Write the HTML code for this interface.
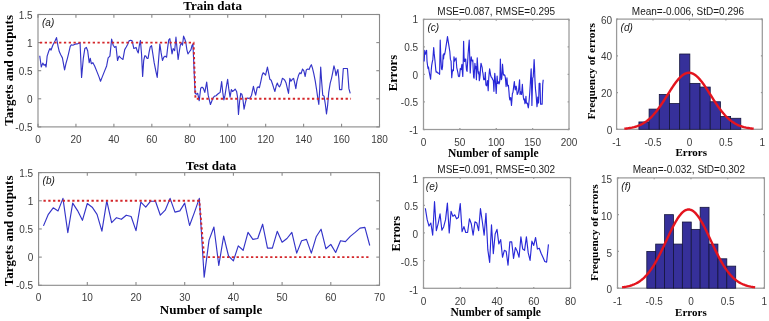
<!DOCTYPE html>
<html><head><meta charset="utf-8"><style>
html,body{margin:0;padding:0;background:#fff;}
svg{display:block;filter:blur(0.35px);}
</style></head><body>
<svg width="769" height="321" viewBox="0 0 769 321">
<rect width="769" height="321" fill="#fff"/>
<g stroke="#8a8a8a" stroke-width="1.1" fill="none"><line x1="38.00" y1="126.90" x2="38.00" y2="123.70"/><line x1="38.00" y1="14.50" x2="38.00" y2="17.70"/><line x1="75.94" y1="126.90" x2="75.94" y2="123.70"/><line x1="75.94" y1="14.50" x2="75.94" y2="17.70"/><line x1="113.89" y1="126.90" x2="113.89" y2="123.70"/><line x1="113.89" y1="14.50" x2="113.89" y2="17.70"/><line x1="151.83" y1="126.90" x2="151.83" y2="123.70"/><line x1="151.83" y1="14.50" x2="151.83" y2="17.70"/><line x1="189.78" y1="126.90" x2="189.78" y2="123.70"/><line x1="189.78" y1="14.50" x2="189.78" y2="17.70"/><line x1="227.72" y1="126.90" x2="227.72" y2="123.70"/><line x1="227.72" y1="14.50" x2="227.72" y2="17.70"/><line x1="265.67" y1="126.90" x2="265.67" y2="123.70"/><line x1="265.67" y1="14.50" x2="265.67" y2="17.70"/><line x1="303.61" y1="126.90" x2="303.61" y2="123.70"/><line x1="303.61" y1="14.50" x2="303.61" y2="17.70"/><line x1="341.56" y1="126.90" x2="341.56" y2="123.70"/><line x1="341.56" y1="14.50" x2="341.56" y2="17.70"/><line x1="379.50" y1="126.90" x2="379.50" y2="123.70"/><line x1="379.50" y1="14.50" x2="379.50" y2="17.70"/><line x1="38.00" y1="126.90" x2="41.20" y2="126.90"/><line x1="379.50" y1="126.90" x2="376.30" y2="126.90"/><line x1="38.00" y1="98.80" x2="41.20" y2="98.80"/><line x1="379.50" y1="98.80" x2="376.30" y2="98.80"/><line x1="38.00" y1="70.70" x2="41.20" y2="70.70"/><line x1="379.50" y1="70.70" x2="376.30" y2="70.70"/><line x1="38.00" y1="42.60" x2="41.20" y2="42.60"/><line x1="379.50" y1="42.60" x2="376.30" y2="42.60"/><line x1="38.00" y1="14.50" x2="41.20" y2="14.50"/><line x1="379.50" y1="14.50" x2="376.30" y2="14.50"/><rect x="38.00" y="14.50" width="341.50" height="112.40" fill="none"/></g><g font-family="&quot;Liberation Sans&quot;, sans-serif" font-size="10" fill="#3c3c3c"><text x="38.00" y="142.90" text-anchor="middle">0</text><text x="75.94" y="142.90" text-anchor="middle">20</text><text x="113.89" y="142.90" text-anchor="middle">40</text><text x="151.83" y="142.90" text-anchor="middle">60</text><text x="189.78" y="142.90" text-anchor="middle">80</text><text x="227.72" y="142.90" text-anchor="middle">100</text><text x="265.67" y="142.90" text-anchor="middle">120</text><text x="303.61" y="142.90" text-anchor="middle">140</text><text x="341.56" y="142.90" text-anchor="middle">160</text><text x="379.50" y="142.90" text-anchor="middle">180</text><text x="32.60" y="131.00" text-anchor="end">-0.5</text><text x="32.60" y="102.90" text-anchor="end">0</text><text x="32.60" y="74.80" text-anchor="end">0.5</text><text x="32.60" y="46.70" text-anchor="end">1</text><text x="32.60" y="18.60" text-anchor="end">1.5</text></g><g stroke="#8a8a8a" stroke-width="1.1" fill="none"><line x1="38.60" y1="285.30" x2="38.60" y2="282.10"/><line x1="38.60" y1="172.60" x2="38.60" y2="175.80"/><line x1="87.30" y1="285.30" x2="87.30" y2="282.10"/><line x1="87.30" y1="172.60" x2="87.30" y2="175.80"/><line x1="136.00" y1="285.30" x2="136.00" y2="282.10"/><line x1="136.00" y1="172.60" x2="136.00" y2="175.80"/><line x1="184.70" y1="285.30" x2="184.70" y2="282.10"/><line x1="184.70" y1="172.60" x2="184.70" y2="175.80"/><line x1="233.40" y1="285.30" x2="233.40" y2="282.10"/><line x1="233.40" y1="172.60" x2="233.40" y2="175.80"/><line x1="282.10" y1="285.30" x2="282.10" y2="282.10"/><line x1="282.10" y1="172.60" x2="282.10" y2="175.80"/><line x1="330.80" y1="285.30" x2="330.80" y2="282.10"/><line x1="330.80" y1="172.60" x2="330.80" y2="175.80"/><line x1="379.50" y1="285.30" x2="379.50" y2="282.10"/><line x1="379.50" y1="172.60" x2="379.50" y2="175.80"/><line x1="38.60" y1="285.30" x2="41.80" y2="285.30"/><line x1="379.50" y1="285.30" x2="376.30" y2="285.30"/><line x1="38.60" y1="257.12" x2="41.80" y2="257.12"/><line x1="379.50" y1="257.12" x2="376.30" y2="257.12"/><line x1="38.60" y1="228.95" x2="41.80" y2="228.95"/><line x1="379.50" y1="228.95" x2="376.30" y2="228.95"/><line x1="38.60" y1="200.78" x2="41.80" y2="200.78"/><line x1="379.50" y1="200.78" x2="376.30" y2="200.78"/><line x1="38.60" y1="172.60" x2="41.80" y2="172.60"/><line x1="379.50" y1="172.60" x2="376.30" y2="172.60"/><rect x="38.60" y="172.60" width="340.90" height="112.70" fill="none"/></g><g font-family="&quot;Liberation Sans&quot;, sans-serif" font-size="10" fill="#3c3c3c"><text x="38.60" y="301.30" text-anchor="middle">0</text><text x="87.30" y="301.30" text-anchor="middle">10</text><text x="136.00" y="301.30" text-anchor="middle">20</text><text x="184.70" y="301.30" text-anchor="middle">30</text><text x="233.40" y="301.30" text-anchor="middle">40</text><text x="282.10" y="301.30" text-anchor="middle">50</text><text x="330.80" y="301.30" text-anchor="middle">60</text><text x="379.50" y="301.30" text-anchor="middle">70</text><text x="33.20" y="289.40" text-anchor="end">-0.5</text><text x="33.20" y="261.23" text-anchor="end">0</text><text x="33.20" y="233.05" text-anchor="end">0.5</text><text x="33.20" y="204.88" text-anchor="end">1</text><text x="33.20" y="176.70" text-anchor="end">1.5</text></g><g stroke="#9a9a9a" stroke-width="1.25" fill="none"><line x1="423.50" y1="129.50" x2="423.50" y2="128.10"/><line x1="423.50" y1="19.30" x2="423.50" y2="20.70"/><line x1="459.88" y1="129.50" x2="459.88" y2="128.10"/><line x1="459.88" y1="19.30" x2="459.88" y2="20.70"/><line x1="496.25" y1="129.50" x2="496.25" y2="128.10"/><line x1="496.25" y1="19.30" x2="496.25" y2="20.70"/><line x1="532.62" y1="129.50" x2="532.62" y2="128.10"/><line x1="532.62" y1="19.30" x2="532.62" y2="20.70"/><line x1="569.00" y1="129.50" x2="569.00" y2="128.10"/><line x1="569.00" y1="19.30" x2="569.00" y2="20.70"/><line x1="423.50" y1="129.50" x2="424.90" y2="129.50"/><line x1="569.00" y1="129.50" x2="567.60" y2="129.50"/><line x1="423.50" y1="101.95" x2="424.90" y2="101.95"/><line x1="569.00" y1="101.95" x2="567.60" y2="101.95"/><line x1="423.50" y1="74.40" x2="424.90" y2="74.40"/><line x1="569.00" y1="74.40" x2="567.60" y2="74.40"/><line x1="423.50" y1="46.85" x2="424.90" y2="46.85"/><line x1="569.00" y1="46.85" x2="567.60" y2="46.85"/><line x1="423.50" y1="19.30" x2="424.90" y2="19.30"/><line x1="569.00" y1="19.30" x2="567.60" y2="19.30"/><rect x="423.50" y="19.30" width="145.50" height="110.20" fill="none"/></g><g font-family="&quot;Liberation Sans&quot;, sans-serif" font-size="10" fill="#3c3c3c"><text x="423.50" y="145.50" text-anchor="middle">0</text><text x="459.88" y="145.50" text-anchor="middle">50</text><text x="496.25" y="145.50" text-anchor="middle">100</text><text x="532.62" y="145.50" text-anchor="middle">150</text><text x="569.00" y="145.50" text-anchor="middle">200</text><text x="418.10" y="133.60" text-anchor="end">-1</text><text x="418.10" y="106.05" text-anchor="end">-0.5</text><text x="418.10" y="78.50" text-anchor="end">0</text><text x="418.10" y="50.95" text-anchor="end">0.5</text><text x="418.10" y="23.40" text-anchor="end">1</text></g><g stroke="#9a9a9a" stroke-width="1.25" fill="none"><line x1="616.60" y1="129.30" x2="616.60" y2="127.90"/><line x1="616.60" y1="19.10" x2="616.60" y2="20.50"/><line x1="653.02" y1="129.30" x2="653.02" y2="127.90"/><line x1="653.02" y1="19.10" x2="653.02" y2="20.50"/><line x1="689.45" y1="129.30" x2="689.45" y2="127.90"/><line x1="689.45" y1="19.10" x2="689.45" y2="20.50"/><line x1="725.88" y1="129.30" x2="725.88" y2="127.90"/><line x1="725.88" y1="19.10" x2="725.88" y2="20.50"/><line x1="762.30" y1="129.30" x2="762.30" y2="127.90"/><line x1="762.30" y1="19.10" x2="762.30" y2="20.50"/><line x1="616.60" y1="129.30" x2="618.00" y2="129.30"/><line x1="762.30" y1="129.30" x2="760.90" y2="129.30"/><line x1="616.60" y1="92.57" x2="618.00" y2="92.57"/><line x1="762.30" y1="92.57" x2="760.90" y2="92.57"/><line x1="616.60" y1="55.83" x2="618.00" y2="55.83"/><line x1="762.30" y1="55.83" x2="760.90" y2="55.83"/><line x1="616.60" y1="19.10" x2="618.00" y2="19.10"/><line x1="762.30" y1="19.10" x2="760.90" y2="19.10"/><rect x="616.60" y="19.10" width="145.70" height="110.20" fill="none"/></g><g font-family="&quot;Liberation Sans&quot;, sans-serif" font-size="10" fill="#3c3c3c"><text x="616.60" y="146.10" text-anchor="middle">-1</text><text x="653.02" y="146.10" text-anchor="middle">-0.5</text><text x="689.45" y="146.10" text-anchor="middle">0</text><text x="725.88" y="146.10" text-anchor="middle">0.5</text><text x="762.30" y="146.10" text-anchor="middle">1</text><text x="612.20" y="133.70" text-anchor="end">0</text><text x="612.20" y="96.97" text-anchor="end">20</text><text x="612.20" y="60.23" text-anchor="end">40</text><text x="612.20" y="23.50" text-anchor="end">60</text></g><g stroke="#9a9a9a" stroke-width="1.25" fill="none"><line x1="423.50" y1="288.30" x2="423.50" y2="286.90"/><line x1="423.50" y1="177.60" x2="423.50" y2="179.00"/><line x1="460.25" y1="288.30" x2="460.25" y2="286.90"/><line x1="460.25" y1="177.60" x2="460.25" y2="179.00"/><line x1="497.00" y1="288.30" x2="497.00" y2="286.90"/><line x1="497.00" y1="177.60" x2="497.00" y2="179.00"/><line x1="533.75" y1="288.30" x2="533.75" y2="286.90"/><line x1="533.75" y1="177.60" x2="533.75" y2="179.00"/><line x1="570.50" y1="288.30" x2="570.50" y2="286.90"/><line x1="570.50" y1="177.60" x2="570.50" y2="179.00"/><line x1="423.50" y1="288.30" x2="424.90" y2="288.30"/><line x1="570.50" y1="288.30" x2="569.10" y2="288.30"/><line x1="423.50" y1="260.62" x2="424.90" y2="260.62"/><line x1="570.50" y1="260.62" x2="569.10" y2="260.62"/><line x1="423.50" y1="232.95" x2="424.90" y2="232.95"/><line x1="570.50" y1="232.95" x2="569.10" y2="232.95"/><line x1="423.50" y1="205.28" x2="424.90" y2="205.28"/><line x1="570.50" y1="205.28" x2="569.10" y2="205.28"/><line x1="423.50" y1="177.60" x2="424.90" y2="177.60"/><line x1="570.50" y1="177.60" x2="569.10" y2="177.60"/><rect x="423.50" y="177.60" width="147.00" height="110.70" fill="none"/></g><g font-family="&quot;Liberation Sans&quot;, sans-serif" font-size="10" fill="#3c3c3c"><text x="423.50" y="305.10" text-anchor="middle">0</text><text x="460.25" y="305.10" text-anchor="middle">20</text><text x="497.00" y="305.10" text-anchor="middle">40</text><text x="533.75" y="305.10" text-anchor="middle">60</text><text x="570.50" y="305.10" text-anchor="middle">80</text><text x="418.10" y="293.50" text-anchor="end">-1</text><text x="418.10" y="265.83" text-anchor="end">-0.5</text><text x="418.10" y="238.15" text-anchor="end">0</text><text x="418.10" y="210.47" text-anchor="end">0.5</text><text x="418.10" y="182.80" text-anchor="end">1</text></g><g stroke="#9a9a9a" stroke-width="1.25" fill="none"><line x1="617.50" y1="288.20" x2="617.50" y2="286.80"/><line x1="617.50" y1="177.90" x2="617.50" y2="179.30"/><line x1="654.23" y1="288.20" x2="654.23" y2="286.80"/><line x1="654.23" y1="177.90" x2="654.23" y2="179.30"/><line x1="690.95" y1="288.20" x2="690.95" y2="286.80"/><line x1="690.95" y1="177.90" x2="690.95" y2="179.30"/><line x1="727.67" y1="288.20" x2="727.67" y2="286.80"/><line x1="727.67" y1="177.90" x2="727.67" y2="179.30"/><line x1="764.40" y1="288.20" x2="764.40" y2="286.80"/><line x1="764.40" y1="177.90" x2="764.40" y2="179.30"/><line x1="617.50" y1="288.20" x2="618.90" y2="288.20"/><line x1="764.40" y1="288.20" x2="763.00" y2="288.20"/><line x1="617.50" y1="251.43" x2="618.90" y2="251.43"/><line x1="764.40" y1="251.43" x2="763.00" y2="251.43"/><line x1="617.50" y1="214.67" x2="618.90" y2="214.67"/><line x1="764.40" y1="214.67" x2="763.00" y2="214.67"/><line x1="617.50" y1="177.90" x2="618.90" y2="177.90"/><line x1="764.40" y1="177.90" x2="763.00" y2="177.90"/><rect x="617.50" y="177.90" width="146.90" height="110.30" fill="none"/></g><g font-family="&quot;Liberation Sans&quot;, sans-serif" font-size="10" fill="#3c3c3c"><text x="617.50" y="305.00" text-anchor="middle">-1</text><text x="654.23" y="305.00" text-anchor="middle">-0.5</text><text x="690.95" y="305.00" text-anchor="middle">0</text><text x="727.67" y="305.00" text-anchor="middle">0.5</text><text x="764.40" y="305.00" text-anchor="middle">1</text><text x="612.10" y="293.30" text-anchor="end">0</text><text x="612.10" y="256.53" text-anchor="end">5</text><text x="612.10" y="219.77" text-anchor="end">10</text><text x="612.10" y="183.00" text-anchor="end">15</text></g><polyline points="39.74,55.71 41.27,67.04 42.79,63.12 44.10,65.29 45.19,64.42 46.06,67.04 47.15,56.14 48.89,50.70 49.98,48.52 51.07,50.04 52.81,45.25 54.99,40.89 56.52,37.63 58.04,46.34 59.35,51.79 60.88,55.05 62.40,57.89 64.58,69.87 65.89,63.77 67.41,58.32 68.50,53.97 70.24,46.34 71.33,44.81 72.86,45.25 75.04,44.16 77.22,43.94 79.39,43.07 80.05,42.64 81.57,77.49 83.32,58.32 84.84,48.52 86.37,47.43 87.67,50.70 89.20,62.68 90.29,58.32 91.38,63.77 92.90,62.68 94.64,65.95 96.82,71.39 99.00,76.84 100.53,81.20 102.27,76.84 104.45,71.39 106.63,65.95 108.15,57.89 109.90,56.14 111.64,39.15 113.16,45.25 114.69,47.43 116.00,46.34 117.52,60.50 119.05,56.14 120.79,57.89 122.97,59.41 124.71,49.61 126.24,46.99 127.76,44.16 129.07,40.89 130.59,40.24 132.12,40.89 133.86,48.52 136.09,47.43 137.18,50.70 138.27,52.88 139.36,45.25 140.45,40.46 141.54,53.97 142.63,76.41 143.71,60.50 144.80,55.71 145.89,56.14 146.98,58.32 148.07,58.32 149.16,51.79 150.25,46.99 151.56,45.69 152.86,53.97 154.17,62.68 155.70,70.31 157.22,77.49 158.53,60.50 159.84,44.16 161.14,52.88 162.45,60.50 163.76,57.23 165.07,56.14 166.59,57.23 167.68,47.43 168.77,39.80 169.86,38.71 170.95,46.34 172.04,53.97 173.13,48.52 174.65,50.70 175.96,37.19 177.05,48.52 178.14,59.41 179.23,51.79 180.32,45.25 181.41,43.07 182.49,45.25 183.58,36.10 184.67,38.71 185.76,41.98 186.85,49.61 187.94,53.97 189.47,51.79 190.99,49.61 192.08,45.25 192.95,44.16 195.10,93.32 196.41,94.25 197.72,93.32 199.21,100.79 200.71,88.27 202.02,87.15 203.33,88.27 204.82,92.38 206.69,82.10 208.19,95.19 209.31,99.86 210.43,104.53 211.93,100.79 213.23,97.62 214.54,96.12 216.04,95.75 217.53,94.25 218.84,93.32 220.15,92.38 221.64,81.54 222.77,92.38 223.89,99.86 225.01,95.19 226.32,86.78 227.63,79.30 228.75,88.64 230.06,97.06 231.36,89.58 232.49,91.45 233.79,90.51 235.10,89.02 236.60,91.45 237.53,97.06 238.47,114.44 239.59,101.73 240.71,93.32 241.83,94.25 242.77,97.99 244.07,109.21 245.20,103.60 246.32,98.93 247.44,97.99 248.75,98.36 250.06,97.99 251.55,95.19 253.42,86.40 254.54,91.45 255.66,95.19 257.16,87.71 258.28,86.78 259.40,87.71 260.90,81.17 262.02,75.56 263.14,72.76 264.26,73.69 265.57,75.19 267.44,67.15 268.75,73.69 269.87,79.30 271.18,80.23 272.49,83.97 273.61,87.71 274.92,91.45 276.22,85.84 277.35,83.04 278.47,85.84 279.59,86.78 280.90,83.97 282.39,78.36 283.50,78.93 284.80,80.23 286.11,83.04 287.61,89.58 288.54,93.32 289.85,78.36 290.97,81.17 292.28,79.30 293.59,78.36 294.71,83.04 295.83,88.64 296.95,81.17 298.45,75.56 299.76,72.76 301.07,73.69 302.56,69.02 303.87,70.89 305.18,76.50 306.30,69.95 307.61,69.02 309.10,69.58 310.41,66.21 311.35,64.72 312.47,68.08 313.78,73.69 315.27,81.17 316.58,89.58 317.89,98.93 318.82,104.53 319.76,88.64 320.69,67.15 321.63,81.17 322.75,95.19 324.06,96.12 325.36,104.53 326.49,113.88 327.61,105.47 328.73,92.38 330.22,83.04 331.53,78.36 332.84,71.82 333.96,65.84 335.08,69.95 336.02,75.56 336.95,71.82 337.89,69.58 338.82,78.36 339.57,89.58 340.88,89.58 341.81,89.58 343.31,68.46 344.62,68.46 345.93,68.46 347.42,68.46 348.92,88.64 350.22,93.32" fill="none" stroke="#3434c8" stroke-width="1.15" stroke-linejoin="round"/><polyline points="39.90,42.60 193.57,42.60 195.47,98.80 351.04,98.80" fill="none" stroke="#d4262a" stroke-width="1.9" stroke-dasharray="2.3 2.5"/><polyline points="43.47,225.90 48.34,214.30 53.21,207.80 58.08,210.90 62.95,198.40 67.82,232.60 72.69,203.10 77.56,210.60 82.43,220.30 87.30,203.50 92.17,207.20 97.04,214.30 101.91,231.10 106.78,200.80 111.65,222.70 116.52,217.70 121.39,219.30 126.26,215.20 131.13,216.50 136.00,230.60 140.87,202.10 145.74,207.20 150.61,201.20 155.48,201.20 160.35,215.20 165.22,210.20 170.09,198.40 174.96,212.10 179.83,210.90 184.70,203.10 189.57,225.50 194.44,212.40 199.31,198.40 204.18,277.10 209.05,240.10 213.92,227.00 218.79,265.50 223.66,236.10 228.53,256.00 233.40,260.80 238.27,245.90 243.14,250.30 248.01,232.40 252.88,239.40 257.75,238.50 262.62,224.20 267.49,248.10 272.36,248.10 277.23,231.30 282.10,242.20 286.97,238.50 291.84,232.40 296.71,253.10 301.58,240.70 306.45,239.40 311.32,253.10 316.19,236.80 321.06,229.20 325.93,248.80 330.80,244.40 335.67,252.50 340.54,240.70 345.41,241.60 350.28,236.40 355.15,232.40 360.02,228.10 364.89,227.40 369.76,245.50" fill="none" stroke="#3434c8" stroke-width="1.15" stroke-linejoin="round"/><polyline points="43.47,200.78 199.31,200.78 204.18,257.12 369.76,257.12" fill="none" stroke="#d4262a" stroke-width="1.9" stroke-dasharray="2.3 2.5"/><polyline points="424.17,61.55 424.75,50.44 425.34,54.29 425.84,52.15 426.26,53.00 426.59,50.44 427.01,61.12 427.68,66.46 428.09,68.60 428.51,67.10 429.18,71.80 430.02,76.07 430.60,79.28 431.19,70.73 431.69,65.39 432.27,62.19 432.86,59.41 433.69,47.66 434.19,53.65 434.78,58.99 435.20,63.26 435.86,70.73 436.28,72.23 436.87,71.80 437.70,72.87 438.54,73.08 439.37,73.94 439.62,74.36 440.21,40.19 440.88,58.99 441.46,68.60 442.05,69.67 442.55,66.46 443.13,54.71 443.55,58.99 443.97,53.65 444.55,54.71 445.22,51.51 446.06,46.17 446.89,40.83 447.48,36.56 448.14,40.83 448.98,46.17 449.82,51.51 450.40,59.41 451.07,61.12 451.74,77.78 452.32,71.80 452.91,69.67 453.41,70.73 453.99,56.85 454.58,61.12 455.25,59.41 456.08,57.92 456.75,67.53 457.33,70.09 457.92,72.87 458.42,76.07 459.01,76.71 459.59,76.07 460.26,68.60 461.11,69.67 461.53,66.46 461.95,64.33 462.37,71.80 462.78,76.50 463.20,63.26 463.62,41.26 464.04,56.85 464.45,61.55 464.87,61.12 465.29,58.99 465.71,58.99 466.13,65.39 466.54,70.09 467.04,71.37 467.55,63.26 468.05,54.71 468.63,47.24 469.22,40.19 469.72,56.85 470.22,72.87 470.72,64.33 471.22,56.85 471.72,60.05 472.22,61.12 472.81,60.05 473.23,69.67 473.64,77.14 474.06,78.21 474.48,70.73 474.90,63.26 475.31,68.60 475.90,66.46 476.40,79.70 476.82,68.60 477.24,57.92 477.65,65.39 478.07,71.80 478.49,73.94 478.91,71.80 479.32,80.77 479.74,78.21 480.16,75.01 480.58,67.53 481.00,63.26 481.58,65.39 482.17,67.53 482.58,71.80 482.92,72.87 483.74,79.77 484.24,78.86 484.75,79.77 485.32,72.44 485.89,84.72 486.39,85.82 486.90,84.72 487.47,80.69 488.19,90.77 488.76,77.94 489.19,73.36 489.62,68.78 490.19,72.44 490.69,75.56 491.20,77.03 491.77,77.39 492.34,78.86 492.84,79.77 493.35,80.69 493.92,91.32 494.35,80.69 494.78,73.36 495.21,77.94 495.71,86.19 496.21,93.52 496.64,84.36 497.14,76.11 497.65,83.44 498.08,81.61 498.58,82.52 499.08,83.99 499.65,81.61 500.01,76.11 500.37,59.07 500.80,71.53 501.23,79.77 501.66,78.86 502.02,75.19 502.52,64.20 502.95,69.70 503.38,74.28 503.81,75.19 504.31,74.83 504.81,75.19 505.39,77.94 506.10,86.56 506.53,81.61 506.96,77.94 507.54,85.27 507.97,86.19 508.40,85.27 508.97,91.69 509.40,97.18 509.83,99.93 510.26,99.02 510.76,97.55 511.48,105.43 511.98,99.02 512.41,93.52 512.91,92.60 513.41,88.94 513.84,85.27 514.35,81.61 514.85,87.11 515.28,89.85 515.71,87.11 516.14,86.19 516.64,88.94 517.21,94.44 517.64,93.89 518.14,92.60 518.64,89.85 519.21,83.44 519.57,79.77 520.07,94.44 520.50,91.69 521.01,93.52 521.51,94.44 521.94,89.85 522.37,84.36 522.80,91.69 523.37,97.18 523.87,99.93 524.37,99.02 524.95,103.60 525.45,101.77 525.95,96.27 526.38,102.68 526.88,103.60 527.46,103.05 527.96,106.35 528.32,107.81 528.75,104.51 529.25,99.02 529.82,91.69 530.32,83.44 530.82,74.28 531.18,68.78 531.54,84.36 531.90,105.43 532.26,91.69 532.69,77.94 533.19,77.03 533.69,68.78 534.12,59.62 534.55,67.86 534.98,80.69 535.55,89.85 536.06,94.44 536.56,100.85 536.99,106.71 537.42,102.68 537.78,97.18 538.14,100.85 538.49,103.05 538.85,94.44 539.14,83.44 539.64,83.44 540.00,83.44 540.57,104.15 541.07,104.15 541.58,104.15 542.15,104.15 542.72,84.36 543.22,79.77" fill="none" stroke="#2828d8" stroke-width="1.15" stroke-linejoin="round"/><polyline points="425.34,208.27 427.18,219.67 429.01,226.05 430.85,223.00 432.69,235.28 434.52,201.69 436.36,230.67 438.20,223.30 440.04,213.77 441.88,230.27 443.71,226.64 445.55,219.67 447.39,203.16 449.23,232.93 451.06,211.41 452.90,216.33 454.74,214.75 456.57,218.78 458.41,217.50 460.25,203.65 462.09,231.65 463.93,226.64 465.76,232.53 467.60,232.53 469.44,218.78 471.27,223.69 473.11,235.28 474.95,221.83 476.79,223.00 478.62,230.67 480.46,208.66 482.30,221.53 484.14,235.28 485.98,213.33 487.81,249.67 489.65,262.54 491.49,224.72 493.32,253.60 495.16,234.06 497.00,229.34 498.84,243.98 500.68,239.65 502.51,257.24 504.35,250.36 506.19,251.24 508.02,265.29 509.86,241.81 511.70,241.81 513.54,258.32 515.38,247.61 517.21,251.24 519.05,257.24 520.89,236.90 522.73,249.08 524.56,250.36 526.40,236.90 528.24,252.91 530.08,260.38 531.91,241.13 533.75,245.45 535.59,237.49 537.42,249.08 539.26,248.20 541.10,253.31 542.94,257.24 544.77,261.46 546.61,262.15 548.45,244.37" fill="none" stroke="#2828d8" stroke-width="1.15" stroke-linejoin="round"/><g fill="#36309a" stroke="#14143c" stroke-width="0.8"><rect x="638.90" y="121.95" width="10.19" height="7.35"/><rect x="649.09" y="109.10" width="10.19" height="20.20"/><rect x="659.28" y="94.40" width="10.19" height="34.90"/><rect x="669.47" y="103.59" width="10.19" height="25.71"/><rect x="679.66" y="54.00" width="10.19" height="75.30"/><rect x="689.85" y="83.38" width="10.19" height="45.92"/><rect x="700.04" y="87.06" width="10.19" height="42.24"/><rect x="710.23" y="101.75" width="10.19" height="27.55"/><rect x="720.42" y="116.44" width="10.19" height="12.86"/><rect x="730.61" y="118.28" width="10.19" height="11.02"/></g><polyline points="624.32,128.67 625.40,128.57 626.48,128.46 627.56,128.33 628.63,128.18 629.71,128.01 630.79,127.82 631.87,127.61 632.95,127.37 634.03,127.11 635.10,126.81 636.18,126.49 637.26,126.12 638.34,125.72 639.42,125.28 640.49,124.80 641.57,124.27 642.65,123.69 643.73,123.06 644.81,122.38 645.89,121.65 646.96,120.85 648.04,120.00 649.12,119.08 650.20,118.11 651.28,117.07 652.35,115.97 653.43,114.80 654.51,113.57 655.59,112.29 656.67,110.94 657.75,109.53 658.82,108.07 659.90,106.56 660.98,105.00 662.06,103.40 663.14,101.77 664.21,100.10 665.29,98.41 666.37,96.71 667.45,94.99 668.53,93.28 669.61,91.58 670.68,89.89 671.76,88.23 672.84,86.61 673.92,85.03 675.00,83.51 676.07,82.06 677.15,80.68 678.23,79.39 679.31,78.19 680.39,77.09 681.47,76.10 682.54,75.23 683.62,74.48 684.70,73.86 685.78,73.37 686.86,73.02 687.93,72.81 689.01,72.74 690.09,72.81 691.17,73.02 692.25,73.37 693.33,73.86 694.40,74.48 695.48,75.23 696.56,76.10 697.64,77.09 698.72,78.19 699.79,79.39 700.87,80.68 701.95,82.06 703.03,83.51 704.11,85.03 705.19,86.61 706.26,88.23 707.34,89.89 708.42,91.58 709.50,93.28 710.58,94.99 711.65,96.71 712.73,98.41 713.81,100.10 714.89,101.77 715.97,103.40 717.05,105.00 718.12,106.56 719.20,108.07 720.28,109.53 721.36,110.94 722.44,112.29 723.51,113.57 724.59,114.80 725.67,115.97 726.75,117.07 727.83,118.11 728.91,119.08 729.98,120.00 731.06,120.85 732.14,121.65 733.22,122.38 734.30,123.06 735.37,123.69 736.45,124.27 737.53,124.80 738.61,125.28 739.69,125.72 740.77,126.12 741.84,126.49 742.92,126.81 744.00,127.11 745.08,127.37 746.16,127.61 747.23,127.82 748.31,128.01 749.39,128.18 750.47,128.33 751.55,128.46 752.63,128.57 753.70,128.67" fill="none" stroke="#e3141e" stroke-width="2.4" stroke-linejoin="round"/><g fill="#36309a" stroke="#14143c" stroke-width="0.8"><rect x="646.80" y="251.43" width="8.89" height="36.77"/><rect x="655.69" y="244.08" width="8.89" height="44.12"/><rect x="664.58" y="214.67" width="8.89" height="73.53"/><rect x="673.47" y="244.08" width="8.89" height="44.12"/><rect x="682.36" y="222.02" width="8.89" height="66.18"/><rect x="691.25" y="229.37" width="8.89" height="58.83"/><rect x="700.14" y="207.31" width="8.89" height="80.89"/><rect x="709.03" y="244.08" width="8.89" height="44.12"/><rect x="717.92" y="258.79" width="8.89" height="29.41"/><rect x="726.81" y="266.14" width="8.89" height="22.06"/></g><polyline points="622.05,287.33 623.16,287.18 624.27,287.03 625.38,286.84 626.49,286.64 627.60,286.40 628.71,286.14 629.82,285.85 630.93,285.52 632.04,285.15 633.14,284.74 634.25,284.28 635.36,283.78 636.47,283.22 637.58,282.61 638.69,281.93 639.80,281.20 640.91,280.39 642.02,279.52 643.13,278.57 644.24,277.54 645.34,276.44 646.45,275.25 647.56,273.97 648.67,272.62 649.78,271.17 650.89,269.64 652.00,268.01 653.11,266.30 654.22,264.51 655.33,262.63 656.44,260.68 657.54,258.64 658.65,256.54 659.76,254.37 660.87,252.15 661.98,249.87 663.09,247.55 664.20,245.20 665.31,242.82 666.42,240.44 667.53,238.05 668.64,235.68 669.74,233.33 670.85,231.02 671.96,228.76 673.07,226.56 674.18,224.45 675.29,222.42 676.40,220.51 677.51,218.70 678.62,217.03 679.73,215.51 680.84,214.13 681.95,212.92 683.05,211.87 684.16,211.01 685.27,210.33 686.38,209.84 687.49,209.55 688.60,209.45 689.71,209.55 690.82,209.84 691.93,210.33 693.04,211.01 694.15,211.87 695.25,212.92 696.36,214.13 697.47,215.51 698.58,217.03 699.69,218.70 700.80,220.51 701.91,222.42 703.02,224.45 704.13,226.56 705.24,228.76 706.35,231.02 707.45,233.33 708.56,235.68 709.67,238.05 710.78,240.44 711.89,242.82 713.00,245.20 714.11,247.55 715.22,249.87 716.33,252.15 717.44,254.37 718.55,256.54 719.65,258.64 720.76,260.68 721.87,262.63 722.98,264.51 724.09,266.30 725.20,268.01 726.31,269.64 727.42,271.17 728.53,272.62 729.64,273.97 730.75,275.25 731.85,276.44 732.96,277.54 734.07,278.57 735.18,279.52 736.29,280.39 737.40,281.20 738.51,281.93 739.62,282.61 740.73,283.22 741.84,283.78 742.95,284.28 744.05,284.74 745.16,285.15 746.27,285.52 747.38,285.85 748.49,286.14 749.60,286.40 750.71,286.64 751.82,286.84 752.93,287.03 754.04,287.18 755.15,287.33" fill="none" stroke="#e3141e" stroke-width="2.4" stroke-linejoin="round"/><text x="212.60" y="10.10" font-family="&quot;Liberation Serif&quot;, serif" font-size="13" font-weight="bold" font-style="normal" text-anchor="middle" fill="#000">Train data</text><text x="211.00" y="169.60" font-family="&quot;Liberation Serif&quot;, serif" font-size="13" font-weight="bold" font-style="normal" text-anchor="middle" fill="#000">Test data</text><text x="13.20" y="70.40" font-family="&quot;Liberation Serif&quot;, serif" font-size="13" font-weight="bold" font-style="normal" text-anchor="middle" fill="#000" transform="rotate(-90 13.20 70.40)">Targets and outputs</text><text x="13.20" y="230.90" font-family="&quot;Liberation Serif&quot;, serif" font-size="13" font-weight="bold" font-style="normal" text-anchor="middle" fill="#000" transform="rotate(-90 13.20 230.90)">Targets and outputs</text><text x="211.00" y="314.10" font-family="&quot;Liberation Serif&quot;, serif" font-size="13" font-weight="bold" font-style="normal" text-anchor="middle" fill="#000">Number of sample</text><text x="493.30" y="156.50" font-family="&quot;Liberation Serif&quot;, serif" font-size="11.5" font-weight="bold" font-style="normal" text-anchor="middle" fill="#000">Number of sample</text><text x="495.70" y="315.80" font-family="&quot;Liberation Serif&quot;, serif" font-size="11.5" font-weight="bold" font-style="normal" text-anchor="middle" fill="#000">Number of sample</text><text x="397.10" y="73.00" font-family="&quot;Liberation Serif&quot;, serif" font-size="12.7" font-weight="bold" font-style="normal" text-anchor="middle" fill="#000" transform="rotate(-90 397.10 73.00)">Errors</text><text x="399.60" y="233.60" font-family="&quot;Liberation Serif&quot;, serif" font-size="12.4" font-weight="bold" font-style="normal" text-anchor="middle" fill="#000" transform="rotate(-90 399.60 233.60)">Errors</text><text x="595.50" y="71.30" font-family="&quot;Liberation Serif&quot;, serif" font-size="11.35" font-weight="bold" font-style="normal" text-anchor="middle" fill="#000" transform="rotate(-90 595.50 71.30)">Frequency of errors</text><text x="598.40" y="232.70" font-family="&quot;Liberation Serif&quot;, serif" font-size="11.35" font-weight="bold" font-style="normal" text-anchor="middle" fill="#000" transform="rotate(-90 598.40 232.70)">Frequency of errors</text><text x="691.20" y="156.40" font-family="&quot;Liberation Serif&quot;, serif" font-size="11" font-weight="bold" font-style="normal" text-anchor="middle" fill="#000">Errors</text><text x="690.90" y="316.30" font-family="&quot;Liberation Serif&quot;, serif" font-size="11" font-weight="bold" font-style="normal" text-anchor="middle" fill="#000">Errors</text><text x="496.25" y="14.60" font-family="&quot;Liberation Sans&quot;, sans-serif" font-size="10" font-weight="normal" font-style="normal" text-anchor="middle" fill="#1a1a1a">MSE=0.087, RMSE=0.295</text><text x="688.00" y="14.60" font-family="&quot;Liberation Sans&quot;, sans-serif" font-size="10" font-weight="normal" font-style="normal" text-anchor="middle" fill="#1a1a1a">Mean=-0.006, StD=0.296</text><text x="496.25" y="172.70" font-family="&quot;Liberation Sans&quot;, sans-serif" font-size="10" font-weight="normal" font-style="normal" text-anchor="middle" fill="#1a1a1a">MSE=0.091, RMSE=0.302</text><text x="688.80" y="172.60" font-family="&quot;Liberation Sans&quot;, sans-serif" font-size="10" font-weight="normal" font-style="normal" text-anchor="middle" fill="#1a1a1a">Mean=-0.032, StD=0.302</text><text x="42.00" y="25.70" font-family="&quot;Liberation Sans&quot;, sans-serif" font-size="10" font-weight="normal" font-style="italic" text-anchor="start" fill="#222">(a)</text><text x="42.60" y="184.40" font-family="&quot;Liberation Sans&quot;, sans-serif" font-size="10" font-weight="normal" font-style="italic" text-anchor="start" fill="#222">(b)</text><text x="427.50" y="30.50" font-family="&quot;Liberation Sans&quot;, sans-serif" font-size="10" font-weight="normal" font-style="italic" text-anchor="start" fill="#222">(c)</text><text x="620.60" y="31.40" font-family="&quot;Liberation Sans&quot;, sans-serif" font-size="10" font-weight="normal" font-style="italic" text-anchor="start" fill="#222">(d)</text><text x="425.80" y="189.70" font-family="&quot;Liberation Sans&quot;, sans-serif" font-size="10" font-weight="normal" font-style="italic" text-anchor="start" fill="#222">(e)</text><text x="621.30" y="189.70" font-family="&quot;Liberation Sans&quot;, sans-serif" font-size="10" font-weight="normal" font-style="italic" text-anchor="start" fill="#222">(f)</text>
</svg>
</body></html>
